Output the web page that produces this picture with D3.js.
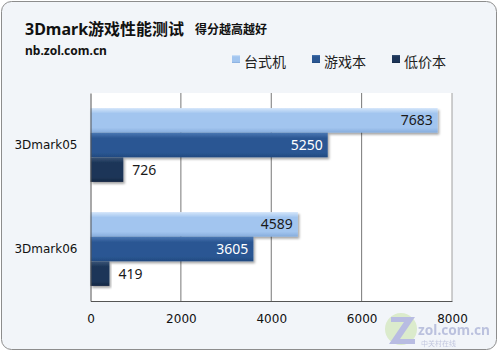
<!DOCTYPE html>
<html>
<head>
<meta charset="utf-8">
<script src="https://cdn.jsdelivr.net/npm/d3@7"></script>
<style>
  body { margin: 0; background: #fff; }
  text { font-family: "Noto Sans", "Noto Sans CJK SC", sans-serif; }
</style>
</head>
<body>
<div id="chart"></div>
<script>
var categories = ["3Dmark05", "3Dmark06"];
var seriesNames = ["台式机", "游戏本", "低价本"];
var desktopVals = [7683, 4589];
var gamingVals = [5250, 3605];
var budgetVals = [726, 419];
var xTicks = [0, 2000, 4000, 6000, 8000];

var width = 498, height = 352;
var margin = {top: 93, bottom: 51, left: 90.5, right: 46};

var colors = [
  {top: "#d4e6fa", mid: "#a2c5ef", bot: "#86acdc", text: "#1a1a1a"},
  {top: "#4a78b4", mid: "#2b5793", bot: "#214a80", text: "#ffffff"},
  {top: "#3a5578", mid: "#1d3558", bot: "#152944", text: "#1a1a1a"}
];

var svg = d3.select('#chart')
            .append('svg')
            .attr('width', width)
            .attr('height', height);

var defs = svg.append('defs');
colors.forEach(function(c, i){
  var g = defs.append('linearGradient')
              .attr('id', 'grad' + i)
              .attr('x1', 0).attr('y1', 0).attr('x2', 0).attr('y2', 1);
  g.append('stop').attr('offset', '0%').attr('stop-color', c.top);
  g.append('stop').attr('offset', '22%').attr('stop-color', c.mid);
  g.append('stop').attr('offset', '80%').attr('stop-color', c.mid);
  g.append('stop').attr('offset', '100%').attr('stop-color', c.bot);
});
var shadow = defs.append('filter').attr('id', 'shadow')
                 .attr('x', '-5%').attr('y', '-20%').attr('width', '115%').attr('height', '160%');
shadow.append('feDropShadow')
      .attr('dx', 1.5).attr('dy', 2).attr('stdDeviation', 1.2)
      .attr('flood-color', '#000').attr('flood-opacity', 0.35);

// outer frame
svg.append('rect')
   .attr('x', 1.5).attr('y', 1.5)
   .attr('width', width - 3).attr('height', height - 4)
   .attr('rx', 10)
   .style('fill', '#f2f5f9')
   .style('stroke', '#8d8d8d');

// titles
svg.append('text').attr('x', 25).attr('y', 35)
   .style('font-size', '16px').style('font-weight', 'bold').style('fill', '#111')
   .text('3Dmark游戏性能测试');
svg.append('text').attr('x', 195).attr('y', 34)
   .style('font-size', '12px').style('font-weight', 'bold').style('fill', '#111')
   .text('得分越高越好');
svg.append('text').attr('x', 25).attr('y', 55)
   .style('font-size', '12px').style('font-weight', 'bold').style('fill', '#111')
   .text('nb.zol.com.cn');

// legend
var legendX = [232, 312, 392];
var legend = svg.selectAll('.legend')
                .data(seriesNames)
                .enter().append('g')
                .attr('class', 'legend')
                .attr('transform', function(d, i){ return 'translate(' + legendX[i] + ',56)'; });
legend.append('rect')
      .attr('x', 0).attr('y', -1).attr('width', 8).attr('height', 8)
      .style('fill', function(d, i){ return 'url(#grad' + i + ')'; });
legend.append('text')
      .attr('x', 12).attr('y', 11)
      .style('font-size', '14px').style('fill', '#222')
      .text(function(d){ return d; });

var plotW = width - margin.left - margin.right;
var plotH = height - margin.top - margin.bottom;

var xScale = d3.scaleLinear().domain([0, 8000]).range([0, plotW]);
var yScale = d3.scaleBand().domain(categories).range([0, plotH]).paddingInner(0.29).paddingOuter(0.145);
var ySub = d3.scaleBand().domain([0, 1, 2]).range([0, yScale.bandwidth()]);

var chartGroup = svg.append('g')
                    .attr('transform', 'translate(' + margin.left + ',' + margin.top + ')');

chartGroup.append('rect')
          .attr('width', plotW).attr('height', plotH)
          .style('fill', '#fff');

// grid
chartGroup.selectAll('.grid')
          .data(xTicks.slice(1))
          .enter().append('line')
          .attr('x1', function(d){ return xScale(d); })
          .attr('x2', function(d){ return xScale(d); })
          .attr('y1', 0).attr('y2', plotH)
          .style('stroke', function(d){ return d === 8000 ? '#a0a0a0' : '#777'; })
          .style('stroke-width', 1);

var rows = categories.map(function(c, i){
  return {cat: c, vals: [desktopVals[i], gamingVals[i], budgetVals[i]]};
});

var groups = chartGroup.selectAll('.grp')
                       .data(rows)
                       .enter().append('g')
                       .attr('transform', function(d){ return 'translate(0,' + yScale(d.cat) + ')'; });

var bars = groups.selectAll('.bar')
                 .data(function(d){ return d.vals.map(function(v, j){ return {v: v, j: j}; }); })
                 .enter().append('g');

bars.append('rect')
    .attr('x', 0)
    .attr('y', function(d){ return ySub(d.j); })
    .attr('width', function(d){ return xScale(d.v); })
    .attr('height', ySub.bandwidth())
    .style('fill', function(d){ return 'url(#grad' + d.j + ')'; })
    .attr('filter', 'url(#shadow)');

bars.append('text')
    .attr('x', function(d){ return d.v > 2000 ? xScale(d.v) - 5 : xScale(d.v) + 9; })
    .attr('y', function(d){ return ySub(d.j) + ySub.bandwidth() / 2 + 5; })
    .attr('text-anchor', function(d){ return d.v > 2000 ? 'end' : 'start'; })
    .style('font-size', '14px')
    .style('fill', function(d){ return d.v > 2000 ? colors[d.j].text : '#1a1a1a'; })
    .text(function(d){ return d.v; });

// axes
var xAxis = d3.axisBottom(xScale).tickValues(xTicks).tickFormat(d3.format('d')).tickSize(0).tickPadding(13);
var gx = chartGroup.append('g')
                   .attr('transform', 'translate(0,' + plotH + ')')
                   .call(xAxis);
gx.select('.domain').style('stroke', '#555');
gx.selectAll('text').style('font-size', '12px').style('fill', '#111')
  .style('font-family', '"DejaVu Sans", sans-serif');

var yAxis = d3.axisLeft(yScale).tickSize(0).tickPadding(13);
var gy = chartGroup.append('g').call(yAxis);
gy.select('.domain').style('stroke', '#555');
gy.selectAll('text').style('font-size', '12px').style('fill', '#111')
  .style('font-family', '"DejaVu Sans", sans-serif');

// watermark
var wm = svg.append('g').attr('transform', 'translate(385,312)').style('opacity', 0.55);
wm.append('circle').attr('cx', 16).attr('cy', 17).attr('r', 16).style('fill', '#c9e3a8');
wm.append('path').attr('d', 'M6,5 L30,5 L15,27 L30,27 L30,32 L4,32 L19,10 L6,10 Z').style('fill', '#8a8fd0');
wm.append('text').attr('x', 33).attr('y', 23)
  .attr('textLength', 72).attr('lengthAdjust', 'spacingAndGlyphs')
  .style('font-size', '15px').style('font-weight', 'bold').style('fill', '#8f98c8')
  .text('zol.com.cn');
wm.append('text').attr('x', 36).attr('y', 34)
  .style('font-size', '7px').style('fill', '#9aa0c8')
  .text('中关村在线');
</script>
</body>
</html>
